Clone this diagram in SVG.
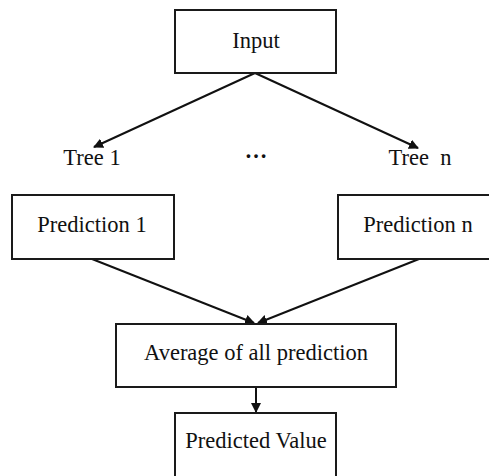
<svg xmlns="http://www.w3.org/2000/svg" width="489" height="476" viewBox="0 0 489 476">
<style>
.box{fill:#fff;stroke:#1a1a1a;stroke-width:2}
.t{font-family:"Liberation Serif","Times New Roman",serif;font-size:22.5px;fill:#111;text-anchor:middle}
.c{stroke:#111;stroke-width:2;fill:none}
</style>
<defs>
<marker id="ah" viewBox="0 0 10 10" refX="9" refY="5" markerWidth="5" markerHeight="5" orient="auto" markerUnits="strokeWidth">
<path d="M0,0 L10,5 L0,10 z" fill="#111"/>
</marker>
</defs>
<rect width="489" height="476" fill="#fff"/>
<g id="connectors">
<line class="c" x1="255" y1="73" x2="94" y2="147" marker-end="url(#ah)"/>
<line class="c" x1="255" y1="73" x2="418" y2="148" marker-end="url(#ah)"/>
<line class="c" x1="92" y1="259" x2="254" y2="323" marker-end="url(#ah)"/>
<line class="c" x1="419" y1="259" x2="258" y2="323" marker-end="url(#ah)"/>
<line class="c" x1="256" y1="387" x2="256" y2="412" marker-end="url(#ah)"/>
</g>
<g id="input"><rect class="box" x="175" y="10" width="161" height="63"/><text class="t" x="256" y="48">Input</text></g>
<g id="tree1"><text class="t" x="92" y="165">Tree 1</text></g>
<g id="dots"><text class="t" x="256" y="158" style="font-weight:bold">…</text></g>
<g id="treen"><text class="t" x="420" y="165" xml:space="preserve">Tree  n</text></g>
<g id="pred1"><rect class="box" x="12" y="195" width="162" height="64"/><text class="t" x="92" y="232">Prediction 1</text></g>
<g id="predn"><rect class="box" x="338" y="195" width="160" height="64"/><text class="t" x="418" y="232">Prediction n</text></g>
<g id="avg"><rect class="box" x="116" y="324" width="280" height="63"/><text class="t" x="256" y="360">Average of all prediction</text></g>
<g id="predval"><rect class="box" x="175" y="413" width="161" height="70"/><text class="t" x="256" y="448">Predicted Value</text></g>
</svg>
